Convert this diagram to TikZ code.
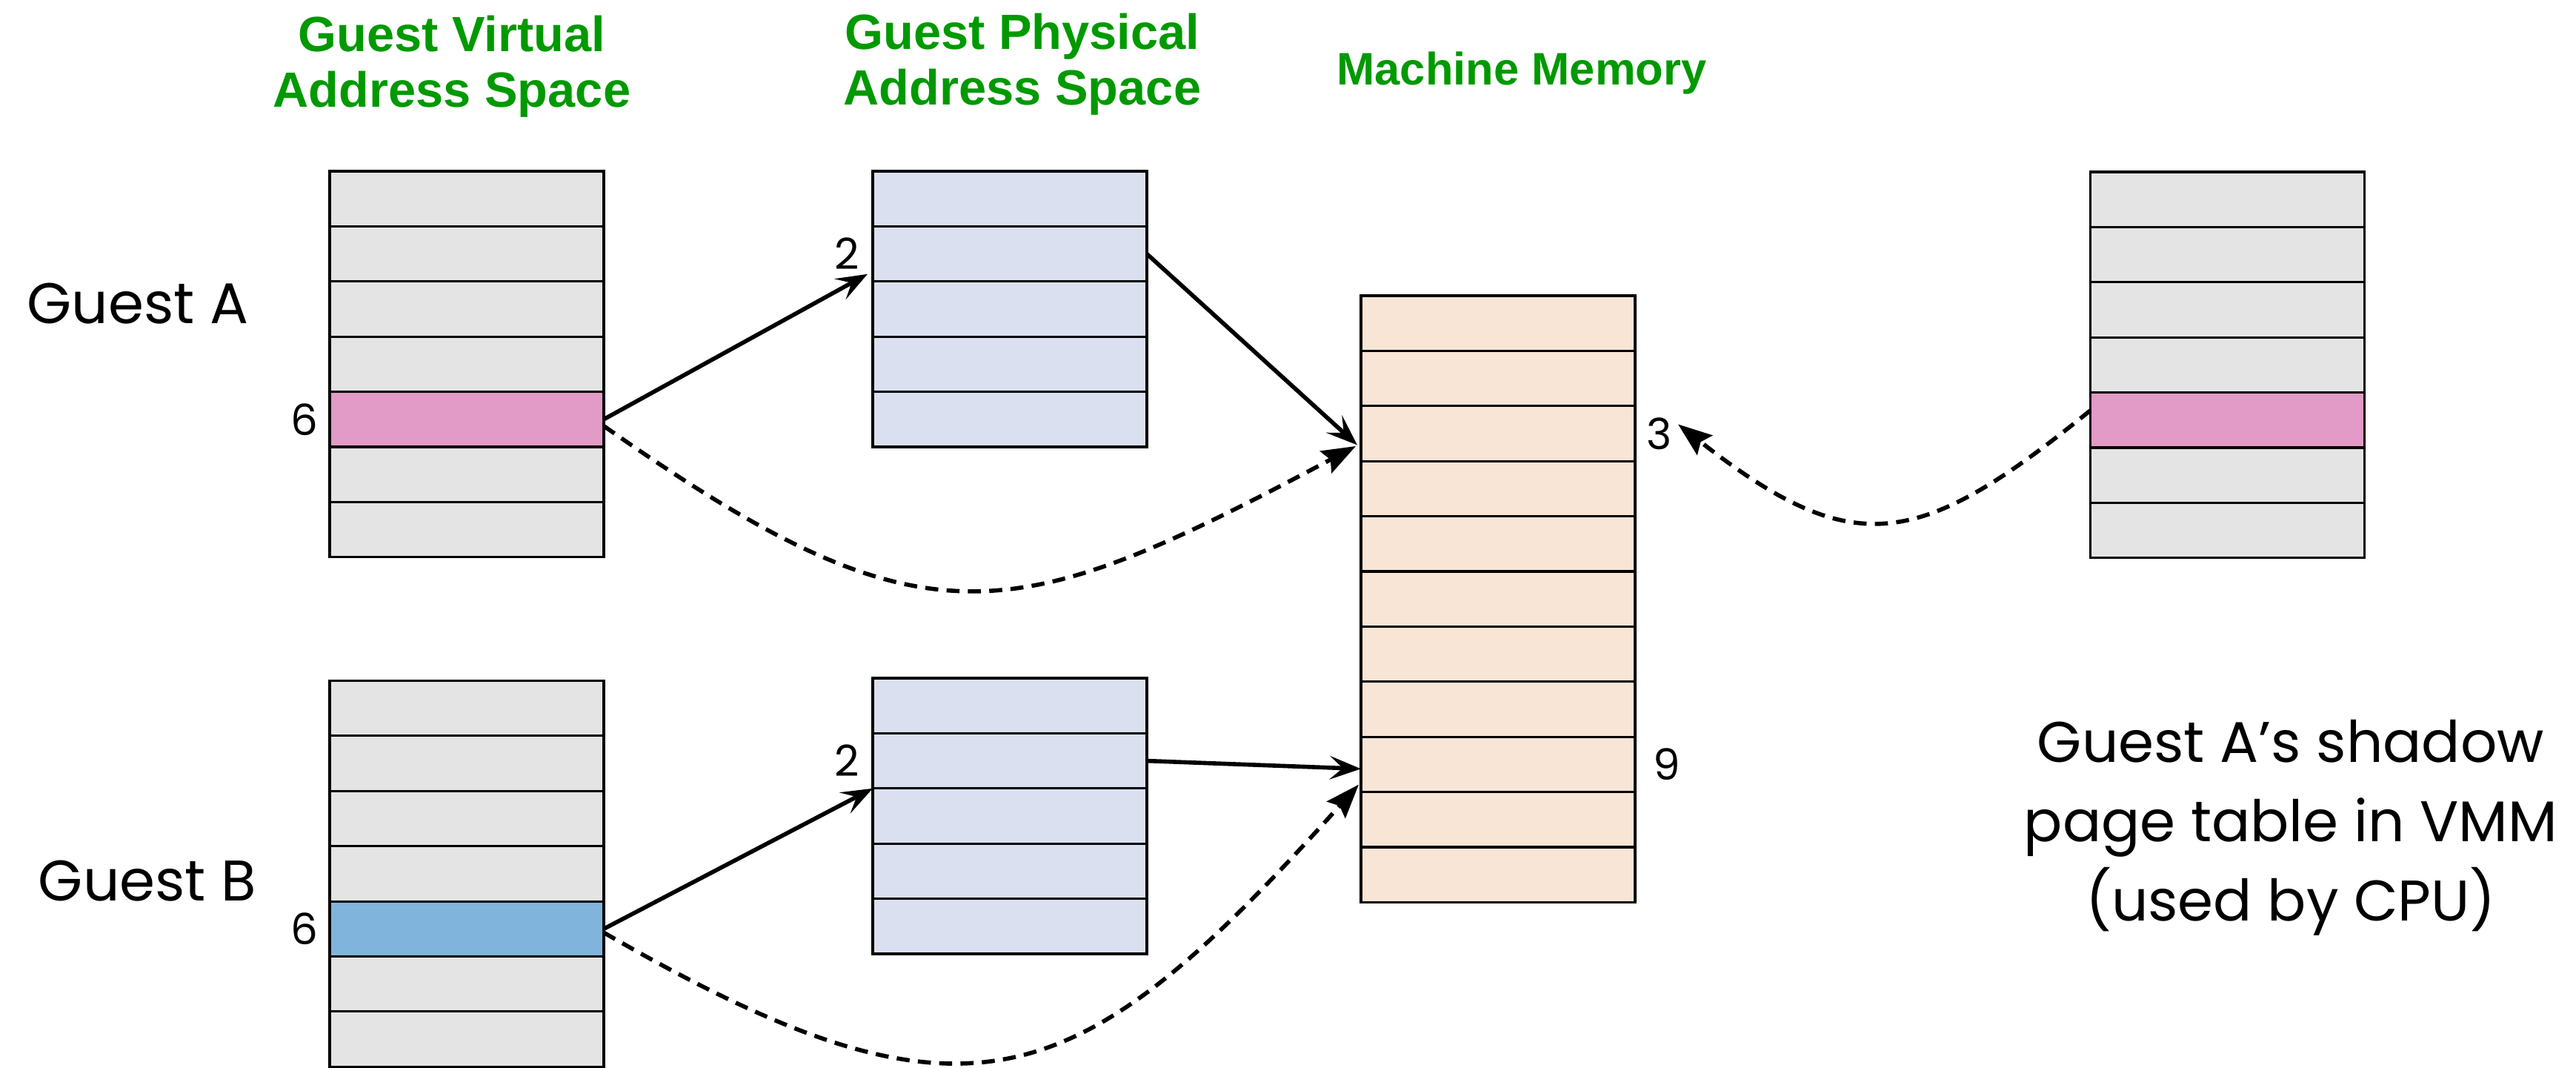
\documentclass[tikz,border=0pt]{standalone}
\usepackage{fontspec}
\setmainfont{Poppins}
\newfontfamily\headfont{Liberation Sans}
\usetikzlibrary{arrows.meta,positioning}

\definecolor{headgreen}{RGB}{0,153,0}
\definecolor{cellgray}{HTML}{E4E4E4}
\definecolor{cellpink}{HTML}{E29AC6}
\definecolor{cellblue}{HTML}{80B4DC}
\definecolor{physblue}{HTML}{DBE0F1}
\definecolor{machpeach}{HTML}{F8E5D6}

\tikzset{
  cell/.style={draw, fill=#1, line width=0.9pt, minimum width=3.7cm,
    minimum height=0.744cm, inner sep=0pt, outer sep=0pt},
  heading/.style={font=\headfont\bfseries\fontsize{19}{21.3}\selectfont,
    text=headgreen, align=center, inner sep=0pt},
  guest/.style={font=\fontsize{22}{30.5}\selectfont, inner sep=0pt},
  num/.style={font=\fontsize{16.5}{18}\selectfont, inner sep=0pt},
  link/.style={line width=1.6pt, -{Stealth[length=12pt,width=9pt,inset=5pt]}},
  shadowlink/.style={link, dash pattern=on 5pt off 3.2pt,
    -{Stealth[length=13pt,width=9.5pt,inset=2pt]}},
}

\begin{document}
\begin{tikzpicture}
\useasboundingbox (0,0) rectangle (34.77,14.41);

% column headings
\node[heading] (hvirt) at (6.10,13.51) {Guest Virtual\\Address Space};
\node[heading] (hphys) at (13.80,13.545) {Guest Physical\\Address Space};
\node[heading, font=\headfont\bfseries\fontsize{17.5}{19}\selectfont] (hmach) at (20.54,13.42) {Machine Memory};

% guest A: virtual and physical page tables
\foreach \i in {1,...,7} {
  \ifnum\i=5 \def\cellcol{cellpink}\else\def\cellcol{cellgray}\fi
  \node[cell=\cellcol] (gva\i) at (6.30,{12.472-0.744*\i}) {};
}
\foreach \i in {1,...,5}
  \node[cell=physblue] (gpa\i) at (13.63,{12.472-0.744*\i}) {};

% guest B
\foreach \i in {1,...,7} {
  \ifnum\i=5 \def\cellcol{cellblue}\else\def\cellcol{cellgray}\fi
  \node[cell=\cellcol] (gvb\i) at (6.30,{5.597-0.744*\i}) {};
}
\foreach \i in {1,...,5}
  \node[cell=physblue] (gpb\i) at (13.63,{5.632-0.744*\i}) {};

% machine memory
\foreach \i in {1,...,11}
  \node[cell=machpeach] (mm\i) at (20.22,{10.792-0.744*\i}) {};

% shadow page table kept by the VMM
\foreach \i in {1,...,7} {
  \ifnum\i=5 \def\cellcol{cellpink}\else\def\cellcol{cellgray}\fi
  \node[cell=\cellcol] (spt\i) at (30.065,{12.462-0.744*\i}) {};
}

% side labels
\node[guest] (guestA) at (1.86,10.31) {Guest A};
\node[guest] (guestB) at (1.99,2.52) {Guest B};
\node[guest, align=center] (shadowtxt) at (30.92,3.24)
  {Guest A’s shadow\\page table in VMM\\(used by CPU)};

% page numbers
\node[num, left=0.15cm of gva5] (n6a) {6};
\node[num, left=0.15cm of gvb5] (n6b) {6};
\node[num, left=0.17cm of gpa2] (n2a) {2};
\node[num, left=0.17cm of gpb2] (n2b) {2};
\node[num, right=0.15cm of mm3] (n3) {3};
\node[num, right=0.24cm of mm9] (n9) {9};

% mappings
\draw[link] (gva5.east) -- ([xshift=-0.07cm,yshift=0.1cm]gpa2.south west);
\draw[link] (gpa2.east) -- ([xshift=-0.05cm,yshift=-0.155cm]mm3.west);
\draw[shadowlink] ([yshift=-0.09cm]gva5.east) .. controls +(-35:5.3) and +(208:5.3)
  .. ([xshift=-0.07cm,yshift=-0.17cm]mm3.west);
\draw[link] (gvb5.east) -- (gpb2.south west);
\draw[link] (gpb2.east) -- ([yshift=-0.06cm]mm9.west);
\draw[shadowlink] ([yshift=-0.05cm]gvb5.east) .. controls +(-30:5.7) and +(-132:5.7)
  .. ([xshift=-0.03cm,yshift=0.1cm]mm9.south west);
\draw[shadowlink] ([yshift=0.13cm]spt5.west) .. controls +(219:3) and +(-38:3)
  .. ([xshift=0.58cm,yshift=0.125cm]mm3.east);
\end{tikzpicture}
\end{document}
